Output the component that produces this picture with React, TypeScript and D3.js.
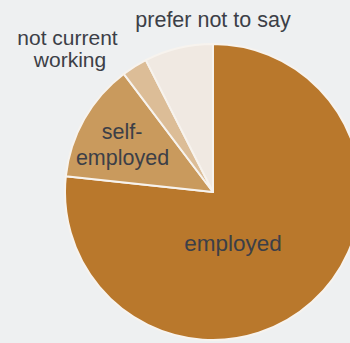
import React from "react";
import * as d3 from "d3";

const categories = ["employed", "self-employed", "not current working", "prefer not to say"];
const values = [76.7, 13.0, 2.8, 7.5];
const colors = ["#b9782c", "#c99a5d", "#dcbd97", "#f0e9e2"];

const W = 350;
const H = 343;
const cx = 213;
const cy = 192;
const R = 148;

export default function App() {
  const pie = d3.pie<number>().sort(null).startAngle(0).endAngle(2 * Math.PI);
  const arcs = pie(values);
  const arcGen = d3.arc<d3.PieArcDatum<number>>().innerRadius(0).outerRadius(R);

  const textStyle: React.CSSProperties = {
    fontFamily: "'Liberation Sans', Arial, Helvetica, sans-serif",
    fontSize: 21.5,
    fill: "#3c3f47",
  };

  return (
    <div style={{ position: "fixed", left: 0, top: 0, width: W, height: H }}>
      <svg width={W} height={H} style={{ display: "block", background: "#eef0f1" }}>
        <g transform={`translate(${cx},${cy})`}>
          {arcs.map((a, i) => (
            <path
              key={categories[i]}
              d={arcGen(a) || ""}
              fill={colors[i]}
              stroke="#f7f3ee"
              strokeWidth={2}
              strokeLinejoin="round"
            />
          ))}
        </g>
        <text style={textStyle} x={213} y={26.5} textAnchor="middle">
          prefer not to say
        </text>
        <text style={{ ...textStyle, fontSize: 21 }} x={67.5} y={44.5} textAnchor="middle">
          not current
        </text>
        <text style={{ ...textStyle, fontSize: 21 }} x={70} y={67} textAnchor="middle">
          working
        </text>
        <text style={textStyle} x={122} y={138.5} textAnchor="middle">
          self-
        </text>
        <text style={textStyle} x={122.5} y={164.5} textAnchor="middle">
          employed
        </text>
        <text style={{ ...textStyle, fontSize: 22.5 }} x={233} y={251} textAnchor="middle">
          employed
        </text>
      </svg>
    </div>
  );
}
